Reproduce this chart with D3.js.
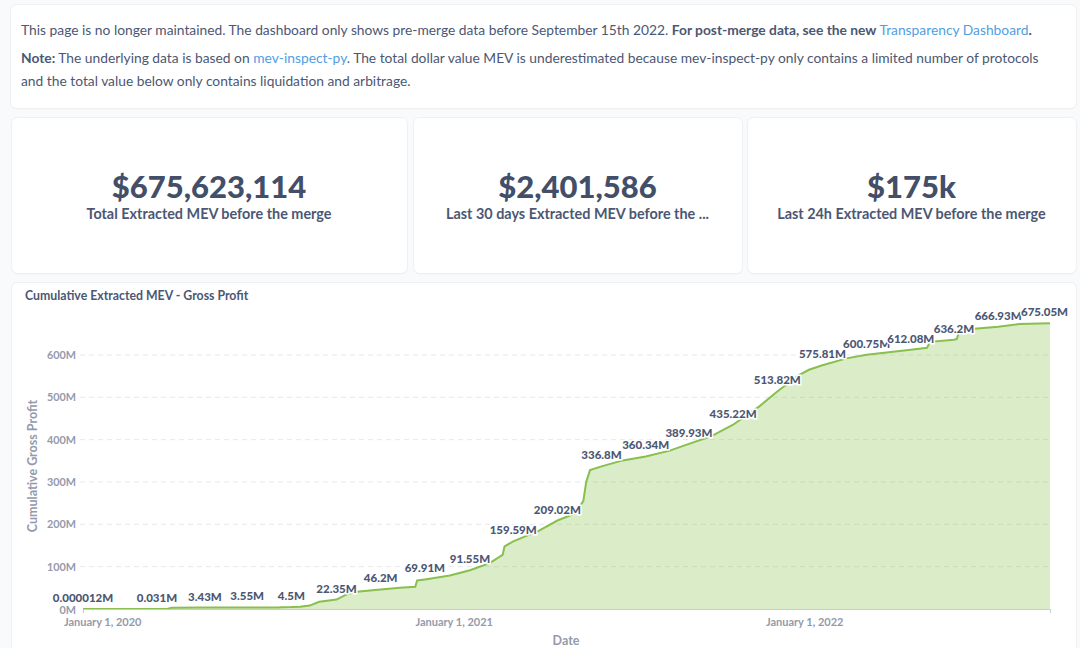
<!DOCTYPE html>
<html>
<head>
<meta charset="utf-8">
<script src="https://cdn.jsdelivr.net/npm/d3@7"></script>
<style>
  html, body { margin: 0; padding: 0; background: #f9fafb; }
  body { width: 1080px; height: 648px; overflow: hidden; font-family: Lato, "Open Sans", sans-serif; }
  svg text { font-family: Lato, "Open Sans", sans-serif; }
</style>
</head>
<body>
<svg id="page" width="1080" height="648"></svg>
<script>
// ---------- data ----------
const dates = ["2019-12-12","2020-02-27","2020-03-09","2020-03-13","2020-04-17","2020-05-31","2020-07-02","2020-07-06","2020-07-16","2020-07-25","2020-08-04","2020-08-14","2020-09-01","2020-09-12","2020-09-22","2020-10-17","2020-11-06","2020-11-22","2020-11-24","2020-12-02","2020-12-28","2021-01-18","2021-02-07","2021-02-21","2021-02-23","2021-03-04","2021-03-31","2021-04-19","2021-05-07","2021-05-16","2021-05-19","2021-05-23","2021-06-04","2021-06-26","2021-07-20","2021-08-14","2021-09-03","2021-09-26","2021-10-19","2021-11-15","2021-12-04","2021-12-27","2022-01-06","2022-01-20","2022-02-14","2022-03-07","2022-04-22","2022-05-09","2022-05-12","2022-06-06","2022-06-09","2022-06-12","2022-07-22","2022-08-13","2022-09-14"];
const values = [0.000012,0.031,0.05,3.2,3.43,3.55,3.7,4.4,4.5,5.5,8,17,22.35,35,41,46.2,50,52.5,67.5,69.91,79,91.55,108,128,148,159.59,185,209.02,225,255,300,328,336.8,351,360.34,374,389.93,408,435.22,478,513.82,553,565,575.81,592,600.75,612.08,617,631,636.2,638,659,666.93,673,675.05];
const labelFlags = [1,1,0,0,1,1,0,0,1,0,0,0,1,0,0,1,0,0,0,1,0,1,0,0,0,1,0,1,0,0,0,0,1,0,1,0,1,0,1,0,1,0,0,1,0,1,1,0,0,1,0,0,1,0,1];
const labelText = ["0.000012M","0.031M","","","3.43M","3.55M","","","4.5M","","","","22.35M","","","46.2M","","","","69.91M","","91.55M","","","","159.59M","","209.02M","","","","","336.8M","","360.34M","","389.93M","","435.22M","","513.82M","","","575.81M","","600.75M","612.08M","","","636.2M","","","666.93M","","675.05M"];
const yTicks = [0,100,200,300,400,500,600];
const xTickDates = ["2020-01-01","2021-01-01","2022-01-01"];
const xTickLabels = ["January 1, 2020","January 1, 2021","January 1, 2022"];
const kpiValues = ["$675,623,114","$2,401,586","$175k"];
const kpiLabels = ["Total Extracted MEV before the merge","Last 30 days Extracted MEV before the ...","Last 24h Extracted MEV before the merge"];

const parse = d3.timeParse("%Y-%m-%d");
const data = dates.map((d,i)=>({date: parse(d), value: values[i], show: labelFlags[i], label: labelText[i]}));

const svg = d3.select("#page");
const textDark = "#4c5773", textLight = "#949aab", green = "#88bf4d";

// ---------- cards ----------
function card(x,y,w,h){
  svg.append("rect").attr("x",x).attr("y",y+1).attr("width",w).attr("height",h).attr("rx",6)
    .attr("fill","#000").attr("opacity",0.035);
  svg.append("rect").attr("x",x).attr("y",y).attr("width",w).attr("height",h).attr("rx",6)
    .attr("fill","#fff").attr("stroke","#eef0f2").attr("stroke-width",1);
}
card(10.5,4.5,1066,104);
card(11.5,117.5,396,156);
card(413.5,117.5,329,156);
card(747.5,117.5,329,156);
card(11.5,282.5,1065,380);

// ---------- header text ----------
const t1 = svg.append("text").attr("x",21).attr("y",35).attr("font-size",13.8).attr("fill",textDark);
t1.append("tspan").text("This page is no longer maintained. The dashboard only shows pre-merge data before September 15th 2022. ");
t1.append("tspan").attr("font-weight",700).text("For post-merge data, see the new ");
t1.append("tspan").attr("font-weight",400).attr("fill","#509ee3").text("Transparency Dashboard");
t1.append("tspan").attr("font-weight",700).text(".");

const t2 = svg.append("text").attr("x",21).attr("y",63).attr("font-size",13.8).attr("fill",textDark);
t2.append("tspan").attr("font-weight",700).text("Note:");
t2.append("tspan").text(" The underlying data is based on ");
t2.append("tspan").attr("fill","#509ee3").text("mev-inspect-py");
t2.append("tspan").text(". The total dollar value MEV is underestimated because mev-inspect-py only contains a limited number of protocols");
svg.append("text").attr("x",21).attr("y",86).attr("font-size",13.8).attr("fill",textDark)
  .text("and the total value below only contains liquidation and arbitrage.");

// ---------- KPI ----------
const kpiCenters = [209, 577.5, 911.5];
kpiCenters.forEach((cx,i)=>{
  svg.append("text").attr("x",cx).attr("y",198).attr("text-anchor","middle")
    .attr("font-size",31).attr("font-weight",900).attr("fill","#434e68").text(kpiValues[i]);
  svg.append("text").attr("x",cx).attr("y",219).attr("text-anchor","middle")
    .attr("font-size",14.4).attr("font-weight",700).attr("fill",textDark).text(kpiLabels[i]);
});

// ---------- chart ----------
svg.append("text").attr("x",25).attr("y",300).attr("font-size",12.3).attr("font-weight",700)
  .attr("fill",textDark).text("Cumulative Extracted MEV - Gross Profit");

const x = d3.scaleTime().domain(d3.extent(data,d=>d.date)).range([83,1050]);
const y = d3.scaleLinear().domain([0,676]).range([609,322.8]);

// grid
const grid = svg.append("g");
grid.selectAll("line").data(yTicks.filter(t=>t>0)).join("line")
  .attr("x1",80).attr("x2",1050).attr("y1",d=>y(d)).attr("y2",d=>y(d))
  .attr("stroke","#e6e8eb").attr("stroke-dasharray","5,4").attr("stroke-width",1);

// y axis
const yAxis = svg.append("g").attr("transform","translate(76,0)")
  .call(d3.axisLeft(y).tickValues(yTicks).tickSize(0).tickPadding(0).tickFormat(d=>d+"M"));
yAxis.select(".domain").remove();
yAxis.selectAll("text").attr("font-size",10.8).attr("font-weight",700).attr("fill",textLight)
  .attr("font-family","Lato");
yAxis.selectAll(".tick").filter(d=>d===0).select("text").attr("dy","0.45em");

svg.append("text").attr("transform","translate(37,466) rotate(-90)").attr("text-anchor","middle")
  .attr("font-size",12.5).attr("font-weight",700).attr("fill",textLight).text("Cumulative Gross Profit");

// area + line
const area = d3.area().x(d=>x(d.date)).y0(y(0)).y1(d=>y(d.value));
const line = d3.line().x(d=>x(d.date)).y(d=>y(d.value));
svg.append("path").datum(data).attr("d",area).attr("fill",green).attr("fill-opacity",0.3);
svg.append("path").datum(data).attr("d",line).attr("fill","none").attr("stroke",green).attr("stroke-width",2);

// x axis
const xAxis = svg.append("g").attr("transform","translate(0,609)")
  .call(d3.axisBottom(x).tickValues(xTickDates.map(parse)).tickSize(0).tickSizeOuter(4).tickPadding(9)
    .tickFormat((d,i)=>xTickLabels[i]));
xAxis.select(".domain").attr("stroke","#c9ced6");
xAxis.selectAll("text").attr("font-size",11).attr("font-weight",700).attr("fill",textLight)
  .attr("font-family","Lato");

svg.append("text").attr("x",566).attr("y",645).attr("text-anchor","middle")
  .attr("font-size",12.5).attr("font-weight",700).attr("fill",textLight).text("Date");

// data labels
const labels = svg.append("g");
data.filter(d=>d.show).forEach(d=>{
  const t = labels.append("text").attr("x",x(d.date)).attr("y",y(d.value)-7).attr("text-anchor","middle")
    .attr("font-size",11.5).attr("font-weight",900).attr("fill",textDark)
    .attr("stroke","#fff").attr("stroke-width",3).attr("paint-order","stroke").text(d.label);
  const w = t.node().getComputedTextLength();
  const cx = Math.min(x(d.date), 1068 - w/2);
  t.attr("x",cx);
});
</script>
</body>
</html>
